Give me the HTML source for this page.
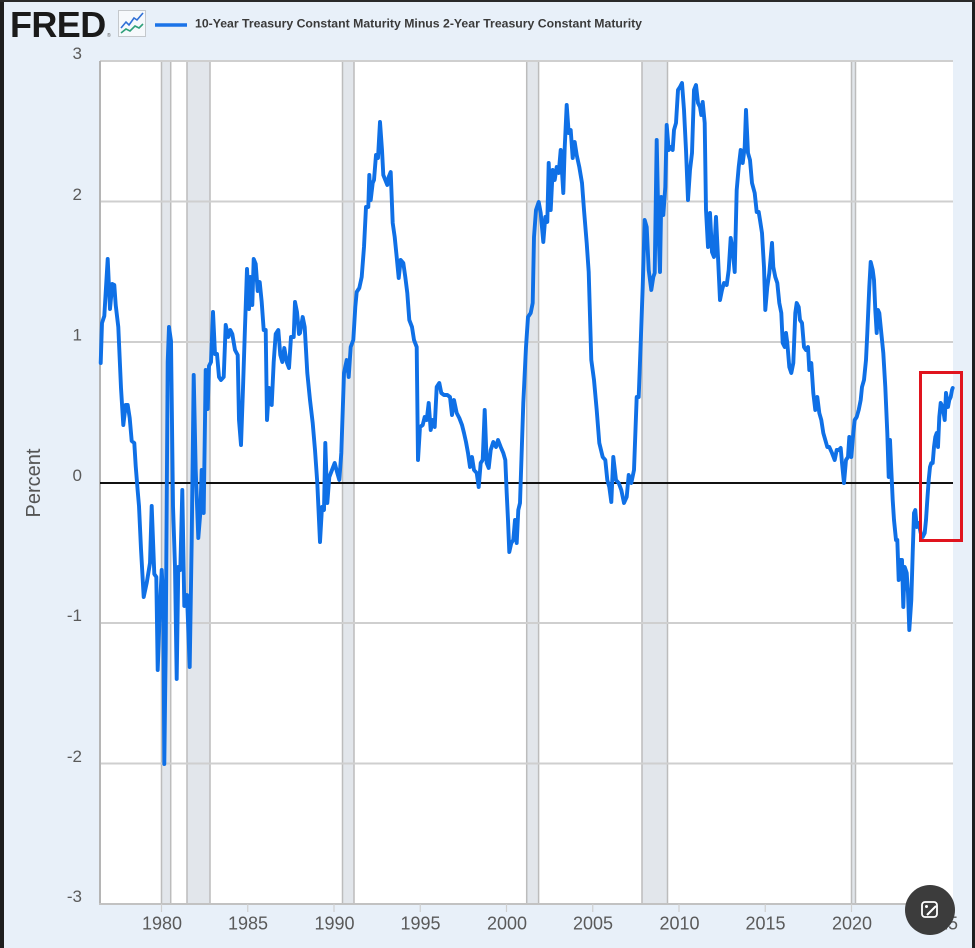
<!DOCTYPE html>
<html>
<head>
<meta charset="utf-8">
<style>
html,body{margin:0;padding:0;background:#e8f0f9;}
svg{display:block;}
</style>
</head>
<body>
<svg width="975" height="948" viewBox="0 0 975 948" xmlns="http://www.w3.org/2000/svg" font-family="Liberation Sans, Arial, sans-serif">
  <!-- background -->
  <rect x="0" y="0" width="975" height="948" fill="#e8f0f9"/>
  <rect x="0" y="0" width="4" height="948" fill="#1e1e1e"/>
  <rect x="972" y="0" width="3" height="948" fill="#1e1e1e"/>
  <rect x="0" y="0" width="975" height="2" fill="#2a2a2a"/>

  <!-- header -->
  <text x="10" y="37" font-size="36" font-weight="bold" fill="#1a1a1a" letter-spacing="-0.6">FRED</text>
  <text x="107" y="37" font-size="5" fill="#555">®</text>
  <rect x="118.5" y="10.5" width="27" height="26" fill="#f6f9fc" stroke="#c4c8cc" stroke-width="1"/>
  <polyline points="121,28 126,22 129,25 134,18 137,20 143,13" fill="none" stroke="#2f6fd6" stroke-width="1.6"/>
  <polyline points="121,33 126,29 130,31 135,26 139,28 143,24" fill="none" stroke="#2fa07a" stroke-width="1.6"/>
  <line x1="155" y1="25" x2="187" y2="25" stroke="#1a73e8" stroke-width="3.5"/>
  <text x="195" y="27.5" font-size="12" font-weight="bold" fill="#3a3a3a" textLength="447" lengthAdjust="spacingAndGlyphs">10-Year Treasury Constant Maturity Minus 2-Year Treasury Constant Maturity</text>

  <!-- plot area -->
  <rect x="100" y="61" width="853" height="843" fill="#ffffff"/>

  <!-- recession bands -->
  <g fill="#e2e6eb" stroke="#bcbcbc" stroke-width="1.5">
    <rect x="161.5" y="61" width="9.2" height="843"/>
    <rect x="187" y="61" width="23" height="843"/>
    <rect x="342.5" y="61" width="11.5" height="843"/>
    <rect x="526.7" y="61" width="11.9" height="843"/>
    <rect x="642" y="61" width="25.5" height="843"/>
    <rect x="851.5" y="61" width="4" height="843"/>
  </g>

  <!-- horizontal gridlines -->
  <g stroke="#cfcfcf" stroke-width="2">
    <line x1="100" y1="61" x2="953" y2="61"/>
    <line x1="100" y1="201.5" x2="953" y2="201.5"/>
    <line x1="100" y1="342" x2="953" y2="342"/>
    <line x1="100" y1="623" x2="953" y2="623"/>
    <line x1="100" y1="763.5" x2="953" y2="763.5"/>
  </g>

  <!-- axes -->
  <line x1="100" y1="61" x2="100" y2="905" stroke="#b5b5b5" stroke-width="2"/>
  <line x1="99" y1="904" x2="953" y2="904" stroke="#c2c2c2" stroke-width="2"/>
  <g stroke="#cfcfcf" stroke-width="1.2">
    <line x1="161.5" y1="904" x2="161.5" y2="912"/>
    <line x1="247.75" y1="904" x2="247.75" y2="912"/>
    <line x1="334" y1="904" x2="334" y2="912"/>
    <line x1="420.25" y1="904" x2="420.25" y2="912"/>
    <line x1="506.5" y1="904" x2="506.5" y2="912"/>
    <line x1="592.75" y1="904" x2="592.75" y2="912"/>
    <line x1="679" y1="904" x2="679" y2="912"/>
    <line x1="765.25" y1="904" x2="765.25" y2="912"/>
    <line x1="851.5" y1="904" x2="851.5" y2="912"/>
    <line x1="937.75" y1="904" x2="937.75" y2="912"/>
  </g>

  <!-- y labels -->
  <g font-size="17" fill="#5a5a5a" text-anchor="end">
    <text x="82" y="59">3</text>
    <text x="82" y="200">2</text>
    <text x="82" y="340.5">1</text>
    <text x="82" y="481">0</text>
    <text x="82" y="621">-1</text>
    <text x="82" y="762">-2</text>
    <text x="82" y="902">-3</text>
  </g>
  <text x="0" y="0" font-size="20" fill="#555" text-anchor="middle" transform="translate(40,483) rotate(-90)">Percent</text>

  <!-- x labels -->
  <g font-size="18" fill="#5a5a5a" text-anchor="middle">
    <text x="162" y="929.5">1980</text>
    <text x="248" y="929.5">1985</text>
    <text x="334.5" y="929.5">1990</text>
    <text x="420.5" y="929.5">1995</text>
    <text x="507" y="929.5">2000</text>
    <text x="593" y="929.5">2005</text>
    <text x="679.5" y="929.5">2010</text>
    <text x="765.5" y="929.5">2015</text>
    <text x="852" y="929.5">2020</text>
    <text x="938" y="929.5">2025</text>
  </g>

  <!-- zero line -->
  <line x1="100" y1="483" x2="953" y2="483" stroke="#111" stroke-width="2"/>

  <!-- data series -->
  <polyline fill="none" stroke="#0f70e6" stroke-width="3.9" stroke-linejoin="round" stroke-linecap="round" points="
100.7,363 102,323 104.3,316 107.7,259 110,309 112.3,284 114.3,285 115.7,305 118.3,327 121,388 123.3,425 125.7,405 127.7,405 129.7,418 131.7,441 134.3,443 135.7,466 137.7,491 139,506 141,549 143.7,597 146.7,583 150,563 151.7,506 154.3,574 156.3,577 157.7,670 159.7,613 161.7,570 163.3,599 164.3,764 165.7,649 167.7,362 169,327 171,341 173,506 175,567 176.7,679 178.3,567 180.3,570 182.3,490 184.3,606 187,595 189.7,667 191.7,541 193.7,375 195.7,470 198.3,538 200.3,513 201.7,470 203.7,513 205.7,370 207.7,409 209,366 211,362 213,312 215,354 217,354 219,377 221,380 223.7,377 225.7,325 228.3,337 230.3,330 232.3,334 235,350 237.7,355 239,420 241,445 243,388 245,327 247,269 249,309 250.3,277 252.3,305 253.7,259 255.7,264 257.7,291 259.7,282 261.7,302 263.7,330 265.7,330 267,420 269,388 271.7,405 273.7,362 275.7,334 278.3,330 280.3,355 282.3,362 284.3,348 286.7,362 289,368 291,337 293.7,337 295,302 297,312 299,334
300,333 302.7,317 304.7,327 307.3,373 310,400 312.7,423 315,450 317.3,483 320,542 322,507 324,510 325.3,443 327.3,503 329.3,477 332,470 334.7,463 337.3,473 339.3,480 341.3,453 344,373 346.7,360 348.7,377 350.7,347 353.3,340 355.3,307 356.7,292 359.3,288 361.7,277 364,247 366,207 368.3,207 369.3,175 370.7,200 372.7,183 374,180 376,155 378,158 380,122 382,150 383.3,175 385.3,180 387.3,185 388.7,177 390.7,172 392.7,223 394.7,237 396.7,257 398.7,278 400.7,260 403.3,263 405.3,277 407.3,293 409.3,320 412,327 414,340 416.7,347 418,460 420,427 422.7,425 424.7,417 426.7,420 428.7,403 430.7,430 432.7,420 434.7,427 436.7,387 439.3,383 441.3,393 444,395 447.3,395 450,397 452,415 454,400 456.7,413 459.3,418 462,425 464,433 466,442 468,453 470,467 472,457 474,470 476.7,473 478.7,487 480.7,463 482.7,460 484.7,410 486.7,463 488.7,468 490.7,450 493.3,442 496,447 498,440 500.7,447 503.3,453 505.3,460 506.7,493 508,520 509.3,552 511.3,543 513.3,540 515,520 516.7,543 518.3,510
520,503 523.3,403 526,347 528,317 530.7,313 532.7,303 534,237 536,210 538.7,202 540.7,213 543.3,242 545.3,217 547.3,222 548.7,163 550.7,210 552.7,170 554.7,180 556.7,167 558.7,173 560.7,150 563.3,193 564.7,148 566.7,105 568.7,133 570.7,130 572.7,158 574.7,142 576.7,155 579.3,167 582,183 584,210 586.7,243 588.7,272 591.3,360 594,380 596.7,410 599.3,443 602.7,457 605.3,460 607.3,480 609.3,487 611.3,502 613.3,457 616,480 618.7,483 621.3,490 624,503 626.7,497 628.7,475 631.3,483 634,470 636.7,397 638.7,397 640.7,343 642.7,287 644.7,220 646.7,227 648.7,270 651.3,290 653.3,277 654.7,273 656.7,140 658.7,237 660,272 661.3,197 663.3,215 665.3,187 666.7,125 668.7,150 670.7,147 672.7,150 674,130 676,123 678,90 680,87 682,83 684,110 686,150 688,200 690,170 692,153 694,90 696,85 698,103 700,107 701.3,115 702.7,102 704.7,123 706,210 708,247 710,213 712,252 714,257 716,217 718,257 720,300 722,290 724,283 726.7,285 728.7,270 730.7,238 732.7,250 734.7,272 736.7,190 738.7,167 740.7,150 742.7,163 744.7,147 746,110 748,153 750,160 752,183 754.7,193 756.7,212 758.7,212
760,220 762,233 764,267 765.3,310 767.3,287 769.3,273 772,243 773.3,267 775.3,277 777.3,283 779.3,303 781.3,313 782.7,343 784.7,347 786,333 787.3,343 789.3,367 791.3,373 793.3,363 795.3,313 796.7,303 798.7,307 800,320 802,323 804,347 806,350 808,347 809.3,370 811.3,363 813.3,393 815.3,410 817.3,397 819.3,413 821.3,420 823.3,433 825.3,440 827.3,447 829.3,447 832,453 834.7,460 836.7,450 838.7,450 840.7,448 842,463 844,483 846,460 848,457 849.3,437 851.3,457 853.3,433 854.7,420 856.7,417 858.7,410 860.7,400 862,387 864,380 866,360 867.3,333 869.3,287 870.7,262 872.7,270 874,280 875.3,310 876.7,333 878,310 879.3,313 881.3,333 883.3,353 885.3,387 887.3,433 888.7,477 890,440 891.3,470 892.7,500 894,520 896,540 897.3,540 898.7,580 900,560 902,560 903.3,607 904.7,567 906.7,573 908,593 909.3,630 911.3,600 912.7,553 914,513 915.3,510 916.7,527 918.7,523 920.7,533 922.7,537 924.7,533 926,520 927.3,500 928.7,480 930,467 931.3,463 932.7,463 934,447 935.3,437 936.7,433 938,447 939.3,417 940.7,403 942.7,407 944.7,420 946,393 948,407 949.3,400 950.7,397 952,390 952.7,388"/>

  <!-- red highlight box -->
  <rect x="920.5" y="372.5" width="41" height="168" fill="none" stroke="#e0141e" stroke-width="3"/>

  <!-- camera icon -->
  <circle cx="930" cy="910" r="25" fill="#3c3c3c"/>
  <rect x="922" y="902" width="15" height="15" rx="3" fill="none" stroke="#ffffff" stroke-width="1.8"/>
  <line x1="927" y1="915" x2="936" y2="906" stroke="#ffffff" stroke-width="2"/>
  <circle cx="926.5" cy="906.5" r="1.5" fill="#ffffff"/>
</svg>
</body>
</html>
